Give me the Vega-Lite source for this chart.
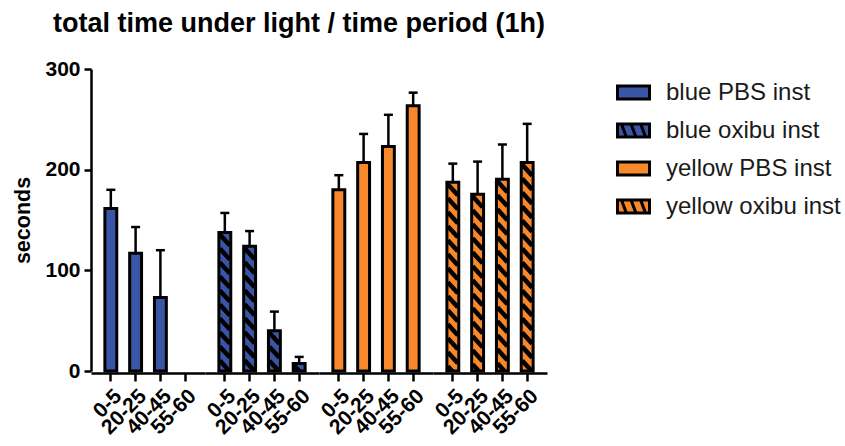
{
  "$schema": "https://vega.github.io/schema/vega-lite/v6.json",
  "background": "white",
  "padding": {"left": 12, "top": 10, "right": 0, "bottom": 5},
  "title": {
    "text": "total time under light / time period (1h)",
    "anchor": "start",
    "frame": "bounds",
    "font": "Liberation Sans",
    "fontSize": 27,
    "fontWeight": "bold",
    "color": "black",
    "dx": 40,
    "offset": 20
  },
  "data": {
    "values": [
      {"series": "blue PBS inst", "period": "0-5", "value": 161.5, "upper": 180},
      {"series": "blue PBS inst", "period": "20-25", "value": 117, "upper": 143},
      {"series": "blue PBS inst", "period": "40-45", "value": 73, "upper": 120},
      {"series": "blue PBS inst", "period": "55-60", "value": null, "upper": null},
      {"series": "blue oxibu inst", "period": "0-5", "value": 137.5, "upper": 157},
      {"series": "blue oxibu inst", "period": "20-25", "value": 124, "upper": 139},
      {"series": "blue oxibu inst", "period": "40-45", "value": 40, "upper": 59},
      {"series": "blue oxibu inst", "period": "55-60", "value": 7.5, "upper": 14},
      {"series": "yellow PBS inst", "period": "0-5", "value": 180, "upper": 194.5},
      {"series": "yellow PBS inst", "period": "20-25", "value": 207, "upper": 235.5},
      {"series": "yellow PBS inst", "period": "40-45", "value": 223, "upper": 254.5},
      {"series": "yellow PBS inst", "period": "55-60", "value": 263.5, "upper": 276.5},
      {"series": "yellow oxibu inst", "period": "0-5", "value": 187.5, "upper": 206},
      {"series": "yellow oxibu inst", "period": "20-25", "value": 175.5, "upper": 208},
      {"series": "yellow oxibu inst", "period": "40-45", "value": 190.5, "upper": 225},
      {"series": "yellow oxibu inst", "period": "55-60", "value": 207, "upper": 245.5}
    ]
  },
  "facet": {
    "column": {
      "field": "series",
      "type": "nominal",
      "sort": ["blue PBS inst", "blue oxibu inst", "yellow PBS inst", "yellow oxibu inst"],
      "header": null
    }
  },
  "spacing": 0,
  "spec": {
    "width": 114,
    "height": 302,
    "layer": [
      {
        "mark": {"type": "rule", "color": "black", "strokeWidth": 2.5},
        "encoding": {
          "x": {"field": "period", "type": "nominal", "sort": ["0-5", "20-25", "40-45", "55-60"], "scale": {"paddingInner": 0.52, "paddingOuter": 0.56}, "title": null},
          "y": {"field": "value", "type": "quantitative", "scale": {"domain": [0, 300], "nice": false}, "axis": {"values": [0, 100, 200, 300], "title": "seconds"}},
          "y2": {"field": "upper"}
        }
      },
      {
        "mark": {"type": "tick", "color": "black", "thickness": 2.5, "size": 9, "opacity": 1},
        "encoding": {
          "x": {"field": "period", "type": "nominal", "sort": ["0-5", "20-25", "40-45", "55-60"], "title": null},
          "y": {"field": "upper", "type": "quantitative"}
        }
      },
      {
        "mark": {"type": "bar", "strokeWidth": 0, "opacity": 1},
        "encoding": {
          "x": {"field": "period", "type": "nominal", "sort": ["0-5", "20-25", "40-45", "55-60"], "title": null},
          "y": {"field": "value", "type": "quantitative"},
          "fill": {
            "field": "series",
            "type": "nominal",
            "scale": {"domain": ["blue PBS inst", "blue oxibu inst", "yellow PBS inst", "yellow oxibu inst"], "range": ["#3A55A6", "#3A55A6", "#F7882B", "#F7882B"]},
            "legend": {
              "title": null,
              "orient": "right",
              "offset": 63,
              "padding": 6,
              "labelFont": "Liberation Sans",
              "labelFontSize": 24,
              "labelColor": "#1a1a1a",
              "labelOffset": 15,
              "labelLimit": 300,
              "rowPadding": 8,
              "symbolSize": 1024,
              "symbolStrokeColor": "black",
              "symbolStrokeWidth": 3,
              "symbolOpacity": 1,
              "encode": {
                "symbols": {
                  "update": {
                    "shape": {"signal": "indexof(datum.value, 'oxibu') >= 0 ? 'M-1,-0.4H1V0.4H-1ZM-0.75,-0.4L-0.45,0.4M-0.15,-0.4L0.15,0.4M0.45,-0.4L0.75,0.4' : 'M-1,-0.4H1V0.4H-1Z'"}
                  }
                }
              }
            }
          }
        }
      },
      {
        "transform": [{"filter": "indexof(datum.series, 'oxibu') >= 0"}],
        "mark": {
          "type": "point",
          "clip": true,
          "filled": false,
          "opacity": 1,
          "size": 100,
          "stroke": "black",
          "strokeWidth": 4.5,
          "shape": "M-1,0.4L1,2.6M-1,3.2L1,5.4M-1,6L1,8.2M-1,8.8L1,11M-1,11.6L1,13.8M-1,14.4L1,16.6M-1,17.2L1,19.4M-1,20L1,22.2M-1,22.8L1,25M-1,25.6L1,27.8M-1,28.4L1,30.6M-1,31.2L1,33.4M-1,34L1,36.2M-1,36.8L1,39M-1,39.6L1,41.8M-1,42.4L1,44.6M-1,45.2L1,47.4M-1,48L1,50.2M-1,50.8L1,53M-1,53.6L1,55.8M-1,56.4L1,58.6M-1,59.2L1,61.4M-1,62L1,64.2"
        },
        "encoding": {
          "x": {"field": "period", "type": "nominal", "sort": ["0-5", "20-25", "40-45", "55-60"], "title": null},
          "y": {"field": "value", "type": "quantitative"}
        }
      },
      {
        "mark": {"type": "bar", "fillOpacity": 0, "stroke": "black", "strokeWidth": 3},
        "encoding": {
          "x": {"field": "period", "type": "nominal", "sort": ["0-5", "20-25", "40-45", "55-60"], "title": null},
          "y": {"field": "value", "type": "quantitative"}
        }
      }
    ]
  },
  "config": {
    "view": {"stroke": null},
    "axis": {
      "domainColor": "black",
      "domainWidth": 2.5,
      "tickColor": "black",
      "tickWidth": 2.5,
      "labelColor": "black",
      "labelFont": "Liberation Sans",
      "labelFontWeight": "bold",
      "titleFont": "Liberation Sans",
      "titleFontWeight": "bold",
      "titleColor": "black",
      "grid": false
    },
    "axisY": {"tickSize": 7, "labelFontSize": 21, "labelPadding": 4, "titleFontSize": 21.5, "titlePadding": 10},
    "axisX": {"tickSize": 8, "labelFontSize": 21, "labelAngle": -45, "labelPadding": 4}
  }
}
